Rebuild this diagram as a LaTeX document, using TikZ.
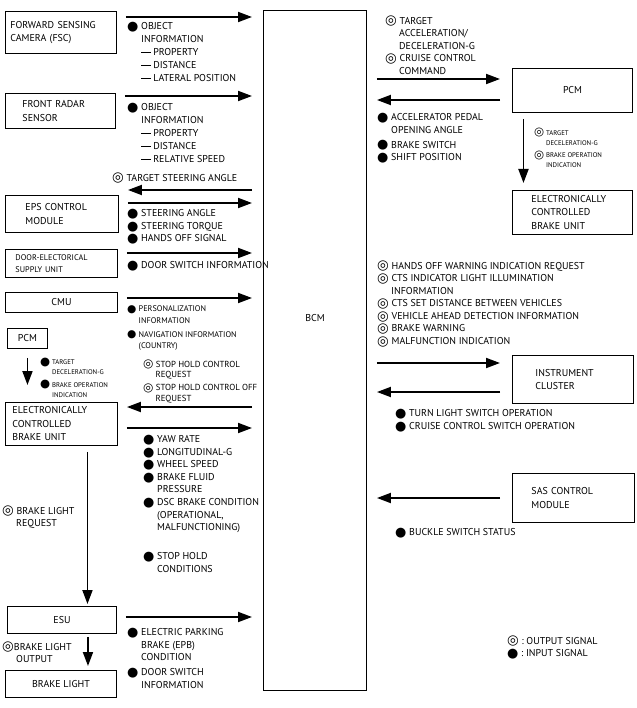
\documentclass[tikz,border=0pt]{standalone}
\usepackage{fontspec}
\setmainfont{PT Sans}
\newfontfamily\symfont{DejaVu Sans}
\usetikzlibrary{arrows.meta}
\newcommand{\inp}{\raisebox{-0.15ex}{\scalebox{1.3}{\symfont ●}}}
\newcommand{\outp}{\raisebox{-0.15ex}{\scalebox{1.35}{\symfont\bfseries ◎}}}
% bigger symbols next to the tiny texts
\newcommand{\binp}{\raisebox{-0.2ex}{\scalebox{1.7}{\symfont ●}}}
\newcommand{\boutp}{\raisebox{-0.2ex}{\scalebox{1.7}{\symfont\bfseries ◎}}}
\newcommand{\hang}{\phantom{\inp}\ }
\newcommand{\bhang}{\phantom{\binp}\ }
\newcommand{\dsh}{\rule[0.3em]{0.95em}{0.5pt}}
\tikzset{
	blk/.style  ={draw=black, line width=0.8pt, anchor=north west, inner sep=0pt, align=left, font=\fontsize{8.5}{11.5}\selectfont},
	lbl/.style  ={anchor=north west, inner sep=0pt, align=left, font=\fontsize{8.5}{10.7}\selectfont},
	small/.style={font=\fontsize{7}{10}\selectfont},
	tiny/.style ={font=\fontsize{5.8}{7.4}\selectfont},
	sig/.style  ={-{Triangle[length=0.42cm, width=0.3cm]}, line width=1.6pt},
	% gaps between arrows and boxes
	lin/.style  ={sig, shorten <=0.27cm, shorten >=0.33cm},
	lout/.style ={sig, shorten <=0.33cm, shorten >=0.27cm},
	rout/.style ={sig, shorten <=0.3cm, shorten >=0.36cm},
	rin/.style  ={sig, shorten <=0.36cm, shorten >=0.3cm},
}
\begin{document}
\begin{tikzpicture}[x=0.03cm, y=-0.03cm]
	\useasboundingbox (0,0) rectangle (636,708);
	% units on the left
	\node[blk, minimum width=3.33cm, minimum height=1.26cm, text width=3.03cm] (fsc) at (5,11) {FORWARD SENSING\\CAMERA (FSC)};
	\node[blk, minimum width=3.3cm, minimum height=1.05cm, text width=2.28cm] (rad) at (5,93) {FRONT RADAR\\SENSOR};
	\node[blk, minimum width=3.39cm, minimum height=1.11cm, text width=2.19cm] (eps) at (5,195) {EPS CONTROL\\MODULE};
	\node[blk, small, minimum width=3.36cm, minimum height=0.84cm, text width=2.76cm] (dsu) at (5,249) {DOOR-ELECTORICAL\\SUPPLY UNIT};
	\node[blk, align=center, minimum width=3.36cm, minimum height=0.6cm] (cmu) at (5,292) {CMU};
	\node[blk, align=center, minimum width=1.2cm, minimum height=0.6cm] (pcml) at (7,328) {PCM};
	\node[blk, minimum width=3.36cm, minimum height=1.29cm, text width=2.94cm] (ecbl) at (5,402) {ELECTRONICALLY\\CONTROLLED\\BRAKE UNIT};
	\node[blk, align=center, minimum width=3.27cm, minimum height=0.81cm] (esu) at (7,606) {ESU};
	\node[blk, align=center, minimum width=3.33cm, minimum height=0.81cm] (bl) at (5,670) {BRAKE LIGHT};
	% body control module
	\node[blk, minimum width=3.09cm, minimum height=20.4cm] (bcm) at (263,10) {};
	\node[font=\fontsize{8.5}{10}\selectfont] (bcmtxt) at ([yshift=0.96cm]bcm.center) {BCM};
	% units on the right
	\node[blk, align=center, minimum width=3.6cm, minimum height=1.32cm] (pcmr) at (512,68) {PCM};
	\node[blk, minimum width=3.6cm, minimum height=1.32cm, text width=2.46cm] (ecbr) at (512,190) {ELECTRONICALLY\\CONTROLLED\\BRAKE UNIT};
	\node[blk, minimum width=3.63cm, minimum height=1.44cm, text width=2.25cm] (ic) at (512,355) {INSTRUMENT\\CLUSTER};
	\node[blk, minimum width=3.66cm, minimum height=1.47cm, text width=2.52cm] (sas) at (512,473) {SAS CONTROL\\MODULE};

	% signals, left side
	\draw[lin] (fsc.east |- 0,17) -- (bcm.west |- 0,17);
	\node[lbl, font=\fontsize{8.5}{11}\selectfont] (sfsc) at (127,22) {\inp\ OBJECT\\\hang INFORMATION\\\hang \dsh\ PROPERTY\\\hang \dsh\ DISTANCE\\\hang \dsh\ LATERAL POSITION};
	\draw[lin] (rad.east |- 0,96) -- (bcm.west |- 0,96);
	\node[lbl, font=\fontsize{8.5}{11}\selectfont] (srad) at (127,103) {\inp\ OBJECT\\\hang INFORMATION\\\hang \dsh\ PROPERTY\\\hang \dsh\ DISTANCE\\\hang \dsh\ RELATIVE SPEED};
	\node[lbl] (stsa) at (112,173) {\outp\ TARGET STEERING ANGLE};
	\draw[lout] (bcm.west |- 0,190) -- (eps.east |- 0,190);
	\draw[lin] (eps.east |- 0,203) -- (bcm.west |- 0,203);
	\node[lbl] (seps) at (127,209) {\inp\ STEERING ANGLE\\\inp\ STEERING TORQUE\\\inp\ HANDS OFF SIGNAL};
	\draw[lin] (dsu.east |- 0,253) -- (bcm.west |- 0,253);
	\node[lbl] (sdsu) at (127,261) {\inp\ DOOR SWITCH INFORMATION};
	\draw[lin] (cmu.east |- 0,298) -- (bcm.west |- 0,298);
	\node[lbl, small] (scmu) at (127,305) {\inp\ PERSONALIZATION\\\hang INFORMATION\\[2pt]\inp\ NAVIGATION INFORMATION\\\hang (COUNTRY)};
	\draw[sig, shorten <=0.27cm, shorten >=0.51cm] (pcml.south) -- (pcml.south |- ecbl.north);
	\node[lbl, tiny] (spcml) at (40,358) {\binp\ TARGET\\\bhang DECELERATION-G\\[2pt]\binp\ BRAKE OPERATION\\\bhang INDICATION};
	\node[lbl, font=\fontsize{7.5}{9}\selectfont] (shold) at (143,360) {\outp\ STOP HOLD CONTROL\\\hang REQUEST\\[2pt]\outp\ STOP HOLD CONTROL OFF\\\hang REQUEST};
	\draw[lout] (bcm.west |- 0,407) -- (ecbl.east |- 0,407);
	\draw[lin] (ecbl.east |- 0,428) -- (bcm.west |- 0,428);
	\node[lbl] (secb) at (143,435) {\inp\ YAW RATE\\\inp\ LONGITUDINAL-G\\\inp\ WHEEL SPEED\\\inp\ BRAKE FLUID\\\hang PRESSURE\\\inp\ DSC BRAKE CONDITION\\\hang (OPERATIONAL,\\\hang MALFUNCTIONING)};
	\node[lbl] (scond) at (143,552) {\inp\ STOP HOLD\\\hang CONDITIONS};
	\draw[sig, shorten <=0.18cm, shorten >=0.06cm] ([xshift=0.78cm]ecbl.south) -- ([xshift=0.78cm]ecbl.south |- esu.north);
	\node[lbl] (sreq) at (2,506) {\outp\ BRAKE LIGHT\\\hang REQUEST};
	\draw[lin] (esu.east |- 0,617) -- (bcm.west |- 0,617);
	\node[lbl] (sesu) at (127,628) {\inp\ ELECTRIC PARKING\\\hang BRAKE (EPB)\\\hang CONDITION\\[2pt]\inp\ DOOR SWITCH\\\hang INFORMATION};
	\draw[sig, shorten <=0.09cm, shorten >=0.12cm] ([xshift=0.78cm]esu.south) -- ([xshift=0.78cm]esu.south |- bl.north);
	\node[lbl] (sout) at (2,642) {\outp BRAKE LIGHT\\\hang OUTPUT};

	% signals, right side
	\node[lbl] (spcm) at (385,16) {\outp\ TARGET\\\hang ACCELERATION/\\\hang DECELERATION-G\\\outp\ CRUISE CONTROL\\\hang COMMAND};
	\draw[rout] (bcm.east |- 0,79) -- (pcmr.west |- 0,79);
	\draw[rin] (pcmr.west |- 0,100) -- (bcm.east |- 0,100);
	\node[lbl] (sacc) at (377,113) {\inp\ ACCELERATOR PEDAL\\\hang OPENING ANGLE\\[2pt]\inp\ BRAKE SWITCH\\\inp\ SHIFT POSITION};
	\draw[sig, shorten <=0.18cm, shorten >=0.21cm] ([xshift=-1.47cm]pcmr.south) -- ([xshift=-1.47cm]pcmr.south |- ecbr.north);
	\node[lbl, tiny] (spcmr) at (534,128) {\boutp\ TARGET\\\bhang DECELERATION-G\\[2pt]\boutp\ BRAKE OPERATION\\\bhang INDICATION};
	\node[lbl] (sic) at (377,261) {\outp\ HANDS OFF WARNING INDICATION REQUEST\\\outp\ CTS INDICATOR LIGHT ILLUMINATION\\\hang INFORMATION\\\outp\ CTS SET DISTANCE BETWEEN VEHICLES\\\outp\ VEHICLE AHEAD DETECTION INFORMATION\\\outp\ BRAKE WARNING\\\outp\ MALFUNCTION INDICATION};
	\draw[rout] (bcm.east |- 0,363) -- (ic.west |- 0,363);
	\draw[rin] (ic.west |- 0,392) -- (bcm.east |- 0,392);
	\node[lbl] (sicin) at (395,409) {\inp\ TURN LIGHT SWITCH OPERATION\\\inp\ CRUISE CONTROL SWITCH OPERATION};
	\draw[rin] (sas.west |- 0,498) -- (bcm.east |- 0,498);
	\node[lbl] (ssas) at (395,528) {\inp\ BUCKLE SWITCH STATUS};
	% legend
	\node[lbl] (key) at (507,636) {\outp\ :\ OUTPUT SIGNAL\\\inp\ :\ INPUT SIGNAL};
\end{tikzpicture}
\end{document}
